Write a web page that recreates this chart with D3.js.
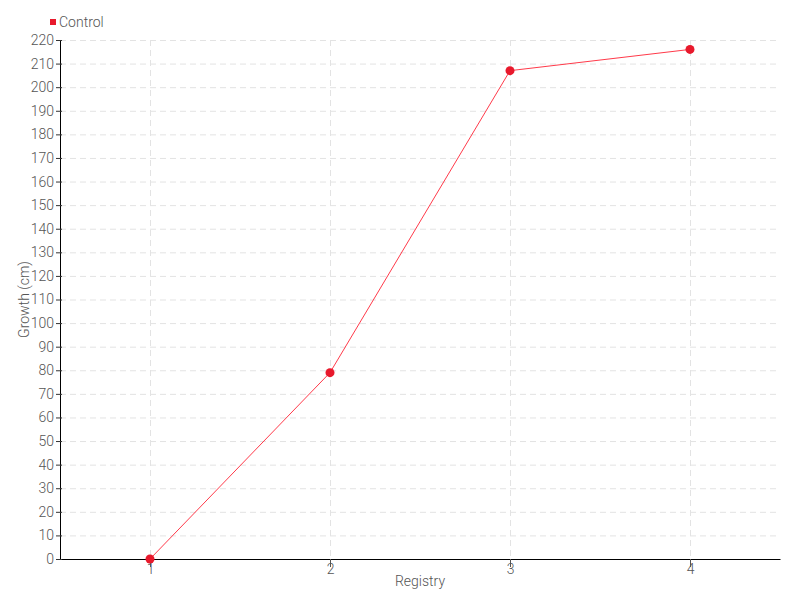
<!DOCTYPE html>
<html>
<head>
<meta charset="utf-8">
<script src="https://cdn.jsdelivr.net/npm/d3@7"></script>
<style>
  body { margin: 0; background: #fff; }
  text { font-family: Roboto, "Liberation Sans Narrow", sans-serif; font-weight: 300; fill: #555; }
</style>
</head>
<body>
<div id="chart"></div>
<script>
// chart data
var registry = ["1", "2", "3", "4"];
var growth = [0, 79, 207, 216];
var yTicks = d3.range(0, 230, 10);
var seriesName = "Control";

// svg container
var svgWidth = 800;
var svgHeight = 600;

var margin = { top: 40, right: 20, bottom: 41, left: 60 };
var chartWidth = svgWidth - margin.left - margin.right;
var chartHeight = svgHeight - margin.top - margin.bottom;

var svg = d3.select("#chart").append("svg")
  .attr("width", svgWidth)
  .attr("height", svgHeight);

var chartGroup = svg.append("g")
  .attr("transform", `translate(${margin.left}, ${margin.top})`);

// scales
var xScale = d3.scalePoint()
  .domain(registry)
  .range([0, chartWidth])
  .padding(0.5);

var yScale = d3.scaleLinear()
  .domain([0, 220])
  .range([chartHeight, 0]);

// grid lines
chartGroup.append("g")
  .selectAll("line")
  .data(yTicks.slice(1))
  .enter()
  .append("line")
  .attr("x1", 0)
  .attr("x2", chartWidth)
  .attr("y1", d => yScale(d) + 0.5)
  .attr("y2", d => yScale(d) + 0.5)
  .attr("stroke", "#e3e3e3")
  .attr("stroke-dasharray", "6,4");

chartGroup.append("g")
  .selectAll("line")
  .data(registry)
  .enter()
  .append("line")
  .attr("x1", d => xScale(d) + 0.5)
  .attr("x2", d => xScale(d) + 0.5)
  .attr("y1", 0)
  .attr("y2", chartHeight)
  .attr("stroke", "#e3e3e3")
  .attr("stroke-dasharray", "6,4");

// axes
var xAxis = d3.axisBottom(xScale).tickSize(8).tickSizeOuter(0);
var yAxis = d3.axisLeft(yScale).tickValues(yTicks).tickSize(4).tickSizeOuter(0);

var xg = chartGroup.append("g")
  .attr("transform", `translate(0, ${chartHeight})`)
  .call(xAxis);
xg.select(".domain").attr("stroke", "#000");
xg.selectAll(".tick line").attr("stroke", "#555");
xg.selectAll(".tick text").attr("dy", "0.25em").attr("font-size", "14px");

var yg = chartGroup.append("g")
  .call(yAxis);
yg.select(".domain").attr("stroke", "#000");
yg.selectAll(".tick line").attr("x2", -4).attr("x1", 2).attr("stroke", "#333");
yg.selectAll(".tick text").attr("x", -6).attr("font-size", "14px");
xg.attr("font-family", null).attr("font-size", null);
yg.attr("font-family", null).attr("font-size", null);

// line and points
var line = d3.line()
  .x((d, i) => xScale(registry[i]))
  .y(d => yScale(d));

chartGroup.append("path")
  .datum(growth)
  .attr("fill", "none")
  .attr("stroke", "#ff3a4a")
  .attr("stroke-width", 1)
  .attr("d", line);

chartGroup.selectAll(".dot")
  .data(growth)
  .enter()
  .append("circle")
  .attr("class", "dot")
  .attr("cx", (d, i) => xScale(registry[i]))
  .attr("cy", d => yScale(d))
  .attr("r", 4.5)
  .attr("fill", "#e8192c");

// axis labels
chartGroup.append("text")
  .attr("transform", "rotate(-90)")
  .attr("x", -(chartHeight / 2))
  .attr("y", -31)
  .attr("text-anchor", "middle")
  .attr("font-size", "14px")
  .text("Growth (cm)");

chartGroup.append("text")
  .attr("x", chartWidth / 2)
  .attr("y", chartHeight + 27)
  .attr("text-anchor", "middle")
  .attr("font-size", "14px")
  .text("Registry");

// legend
svg.append("rect")
  .attr("x", 50)
  .attr("y", 19)
  .attr("width", 6)
  .attr("height", 6)
  .attr("fill", "#e8192c");

svg.append("text")
  .attr("x", 59)
  .attr("y", 27)
  .attr("font-size", "14px")
  .text(seriesName);
</script>
</body>
</html>
